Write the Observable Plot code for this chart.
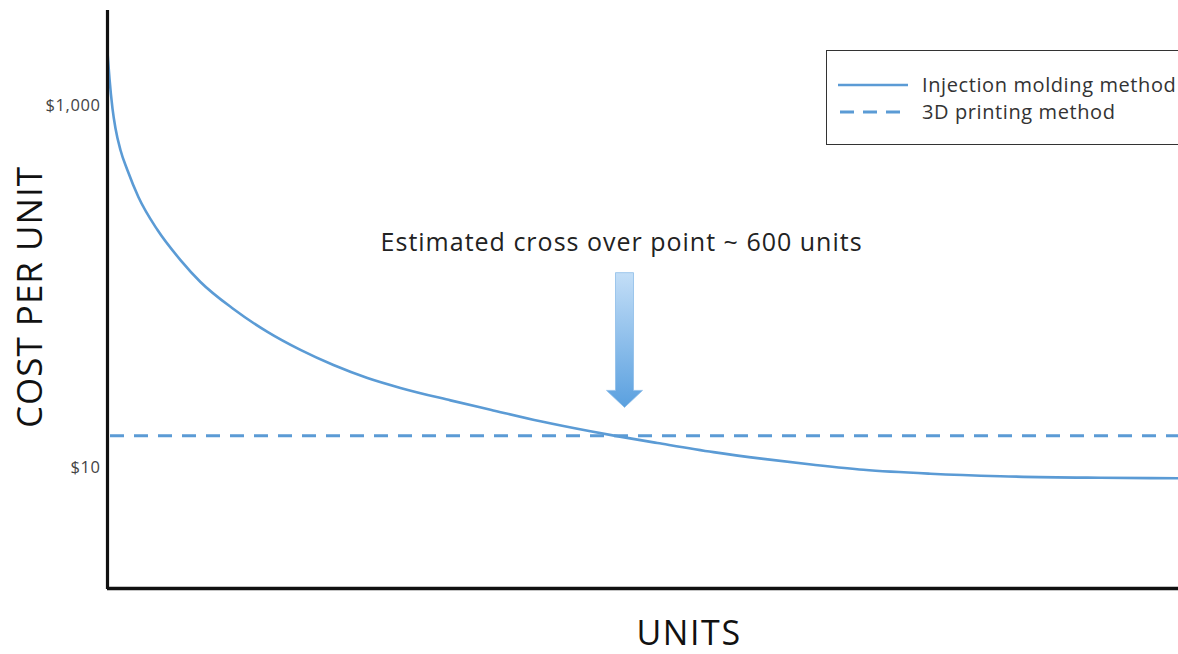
<!DOCTYPE html>
<html>
<head>
<meta charset="utf-8">
<script src="https://cdn.jsdelivr.net/npm/d3@7"></script>
<script src="https://cdn.jsdelivr.net/npm/@observablehq/plot@0.6"></script>
<style>
  html, body { margin: 0; padding: 0; background: #fff; }
  #wrap { position: relative; width: 1178px; height: 654px; overflow: hidden; font-family: "Open Sans", sans-serif; }
  #legend { position: absolute; left: 826px; top: 50px; width: 380px; height: 95px; border: 1.6px solid #333; background: #fff; box-sizing: border-box; }
  #legend .row { position: absolute; left: 0; display: flex; align-items: center; font-size: 20px; letter-spacing: 0.6px; color: #333; white-space: nowrap; }
  #legend svg { margin-left: 11px; margin-right: 14px; }
</style>
</head>
<body>
<div id="wrap"></div>
<script>
// ---- data ----
const units = [0, 2.3, 5.8, 9.3, 15.2, 23.3, 36.2, 58.4, 85.2, 108.5, 147, 186.7, 225.2, 263.7, 303.4, 341.9, 400.3, 447, 505.3, 563.6, 592.8, 641.8, 707.2, 765.6, 823.9, 882.3, 960.5, 1042.2, 1159, 1250];
const injectionCost = [1959, 1409, 962, 747, 565, 438, 311, 205, 140, 106, 75.2, 56.2, 44.7, 36.9, 31.3, 27.6, 23.55, 20.9, 18.04, 15.89, 15.0, 13.7, 12.2, 11.2, 10.4, 9.75, 9.27, 8.98, 8.81, 8.75];
const printingCost = 15;
const xDomain = [0, 1250];
const yDomain = [2.13, 3336];
const yTicks = [10, 1000];
const seriesNames = ["Injection molding method", "3D printing method"];
const annotation = "Estimated cross over point ~ 600 units";
const crossoverUnits = 604;
const annotationY = 174;
const arrowTopY = 118.6;
const arrowTipY = 21.4;

const lineColor = "#5b9bd5";
const injection = units.map((u, i) => ({units: u, cost: injectionCost[i]}));

const arrowMark = (index, scales, values, dims) => {
  const cx = scales.x(crossoverUnits);
  const top = scales.y(arrowTopY);
  const tip = scales.y(arrowTipY);
  const shaftHalf = 9, headHalf = 18, headH = 17;
  const g = d3.create("svg:g");
  const grad = g.append("defs").append("linearGradient")
    .attr("id", "arrowGrad").attr("x1", 0).attr("y1", 0).attr("x2", 0).attr("y2", 1);
  grad.append("stop").attr("offset", "0%").attr("stop-color", "#c3def7");
  grad.append("stop").attr("offset", "100%").attr("stop-color", "#5aa0df");
  g.append("path")
    .attr("d", `M${cx - shaftHalf},${top} L${cx + shaftHalf},${top} L${cx + shaftHalf},${tip - headH} L${cx + headHalf},${tip - headH} L${cx},${tip} L${cx - headHalf},${tip - headH} L${cx - shaftHalf},${tip - headH} Z`)
    .attr("fill", "url(#arrowGrad)")
    .attr("stroke", "#8dbde9")
    .attr("stroke-width", 0.8);
  return g.node();
};

const plot = Plot.plot({
  width: 1178,
  height: 654,
  marginLeft: 107,
  marginRight: 0,
  marginTop: 10,
  marginBottom: 65,
  style: {fontFamily: "'Open Sans', sans-serif", background: "#fff"},
  x: {domain: xDomain, axis: null},
  y: {type: "log", domain: yDomain, axis: null},
  marks: [
    Plot.axisY({ticks: yTicks, tickFormat: d => "$" + d3.format(",")(d), tickSize: 0, tickPadding: 7, fontSize: 16.5, fill: "#444", label: null}),
    Plot.ruleY([printingCost], {stroke: lineColor, strokeWidth: 3, strokeDasharray: "14,10", strokeDashoffset: -3}),
    Plot.line(injection, {x: "units", y: "cost", stroke: lineColor, strokeWidth: 2.6, curve: "monotone-x"}),
    Plot.ruleX([0], {stroke: "#111", strokeWidth: 3.2}),
    Plot.ruleY([yDomain[0]], {stroke: "#111", strokeWidth: 3.4, dy: -1}),
    Plot.text([annotation], {x: crossoverUnits - 4, y: annotationY, text: d => d, fontSize: 25, fill: "#222", textAnchor: "middle", lineAnchor: "middle"}),
    arrowMark,
    Plot.text(["COST PER UNIT"], {frameAnchor: "left", dx: -77, dy: -3, rotate: -90, text: d => d, fontSize: 35, fill: "#111", textAnchor: "middle", lineAnchor: "middle"}),
    Plot.text(["UNITS"], {frameAnchor: "bottom", dx: 46, dy: 45, text: d => d, fontSize: 34, fill: "#111", textAnchor: "middle", lineAnchor: "middle"})
  ]
});

const wrap = document.getElementById("wrap");
wrap.appendChild(plot);

// spacing tweaks on text to match the wide glyphs of the original
d3.select(plot).selectAll("g[aria-label='text'] text").each(function () {
  const t = this.textContent;
  if (t === annotation) this.style.letterSpacing = "1px";
  else if (t === "UNITS") this.style.letterSpacing = "1.6px";
  else if (t === "COST PER UNIT") this.style.letterSpacing = "1px";
});
d3.select(plot).selectAll("g[aria-label='y-axis tick label'] text").style("letter-spacing", "0.6px");

// legend
const legend = document.createElement("div");
legend.id = "legend";
const dashes = ["", "14,9"];
seriesNames.forEach((name, i) => {
  const row = document.createElement("div");
  row.className = "row";
  row.style.top = (i === 0 ? 20 : 47) + "px";
  row.innerHTML = `<svg width="70" height="6"><line x1="0" x2="70" y1="3" y2="3" stroke="${lineColor}" stroke-width="${i === 0 ? 2.6 : 3}" ${dashes[i] ? `stroke-dasharray="${dashes[i]}" stroke-dashoffset="-2"` : ""}/></svg><span>${name}</span>`;
  legend.appendChild(row);
});
wrap.appendChild(legend);
</script>
</body>
</html>
